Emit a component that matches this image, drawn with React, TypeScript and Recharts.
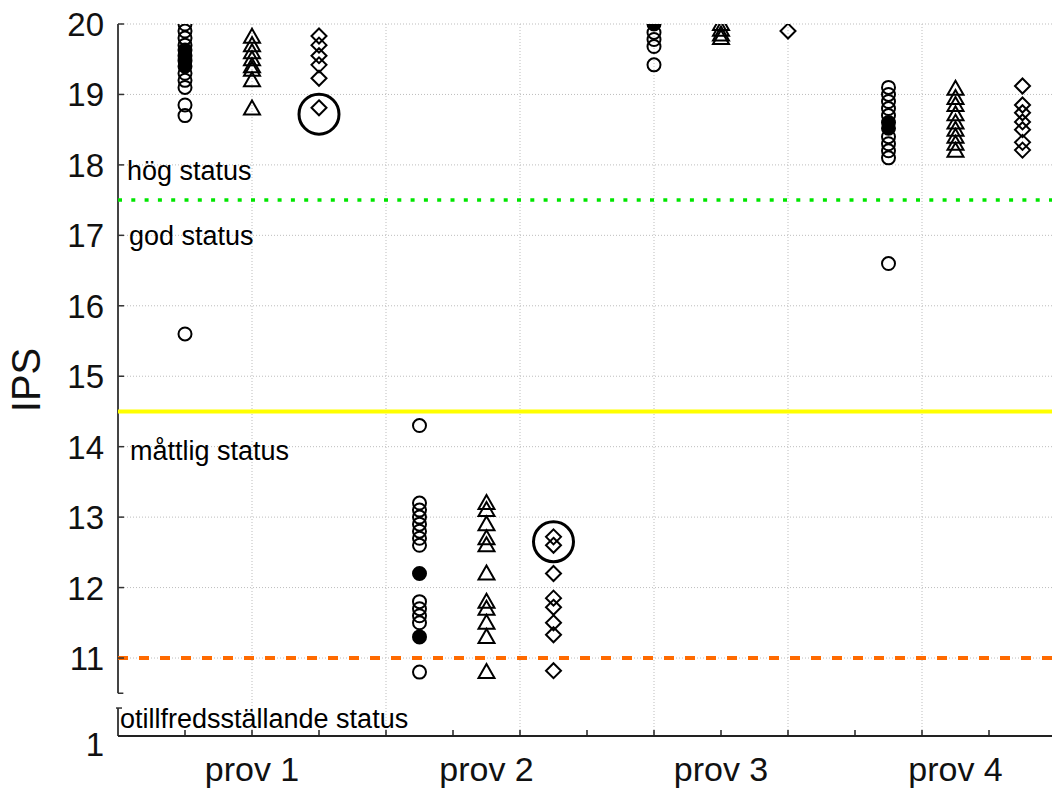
import { ScatterChart, Scatter, XAxis, YAxis, CartesianGrid, ReferenceLine } from 'recharts'

const FONT = 'Liberation Sans, Arial, sans-serif'

// x axis: four sample groups, three columns each (circle, triangle, diamond)
const PROV_LABELS = ['prov 1', 'prov 2', 'prov 3', 'prov 4']
const PROV_CENTERS = [2, 5.5, 9, 12.5]
const COLUMN_TICKS = [1, 2, 3, 4, 5, 6, 7, 8, 9, 10, 11, 12, 13]
const GRID_X = [2, 4, 6, 8, 10, 12]

// y axis: broken scale, 11..20 plus a compressed "1" at the bottom
const Y_TICKS = [11, 12, 13, 14, 15, 16, 17, 18, 19, 20]
const Y_BOTTOM = 9.893
const Y_BREAK_TOP = 10.5
const Y_BREAK_BOTTOM = 10.29
const BOTTOM_TICK_LABEL = '1'

// class boundaries
const HIGH_LIMIT = 17.5
const GOOD_LIMIT = 14.5
const MODERATE_LIMIT = 11
const STATUS = ['hög status', 'god status', 'måttlig status', 'otillfredsställande status']

// IPS values per prov
const circlesOpen = [
  [20.0, 19.9, 19.8, 19.7, 19.3, 19.2, 19.1, 18.85, 18.7, 15.6],
  [14.3, 13.2, 13.1, 13.0, 12.9, 12.8, 12.7, 12.6, 11.8, 11.7, 11.6, 11.5, 10.8],
  [19.88, 19.78, 19.68, 19.42],
  [19.1, 19.0, 18.9, 18.8, 18.7, 18.4, 18.3, 18.2, 18.1, 16.6],
]
const circlesFilled = [
  [19.63, 19.55, 19.48, 19.4],
  [12.2, 11.3],
  [20.0],
  [18.6, 18.52],
]
const triangles = [
  [19.82, 19.7, 19.6, 19.5, 19.4, 19.35, 19.2, 18.8],
  [13.2, 13.1, 12.9, 12.7, 12.6, 12.2, 11.8, 11.7, 11.5, 11.3, 10.8],
  [20.0, 19.92, 19.85, 19.8],
  [19.08, 18.95, 18.85, 18.72, 18.6, 18.5, 18.4, 18.3, 18.2],
]
const diamonds = [
  [19.83, 19.7, 19.55, 19.42, 19.23, 18.81],
  [12.72, 12.6, 12.2, 11.85, 11.72, 11.5, 11.33, 10.82],
  [19.9],
  [19.12, 18.85, 18.74, 18.61, 18.5, 18.32, 18.21],
]
const marked = [[18.72], [12.65], [], []]

const toPoints = (groups: number[][], offset: number) =>
  groups.flatMap((vals, i) => vals.map((v) => ({ x: PROV_CENTERS[i] + offset, y: v })))

const OpenCircle = (p: any) => <circle cx={p.cx} cy={p.cy} r={6.5} fill="none" stroke="#000" strokeWidth={2} />
const FilledCircle = (p: any) => <circle cx={p.cx} cy={p.cy} r={6.5} fill="#000" stroke="#000" strokeWidth={2} />
const Triangle = (p: any) => (
  <polygon
    points={`${p.cx},${p.cy - 8} ${p.cx - 8},${p.cy + 6} ${p.cx + 8},${p.cy + 6}`}
    fill="none"
    stroke="#000"
    strokeWidth={2}
  />
)
const Diamond = (p: any) => (
  <polygon
    points={`${p.cx},${p.cy - 7.5} ${p.cx + 7.5},${p.cy} ${p.cx},${p.cy + 7.5} ${p.cx - 7.5},${p.cy}`}
    fill="none"
    stroke="#000"
    strokeWidth={2}
  />
)
const BigRing = (p: any) => <circle cx={p.cx} cy={p.cy} r={20} fill="none" stroke="#000" strokeWidth={3} />

const BottomTick = (p: any) => {
  const v = p.payload.value
  const idx = PROV_CENTERS.indexOf(v)
  return (
    <g>
      {Number.isInteger(v) && <line x1={p.x} x2={p.x} y1={p.y} y2={p.y - 6} stroke="#222" strokeWidth={1.5} />}
      {idx >= 0 && (
        <text x={p.x} y={p.y + 45} textAnchor="middle" fontSize={34} fontFamily={FONT} fill="#111">
          {PROV_LABELS[idx]}
        </text>
      )}
    </g>
  )
}

const TopTick = (p: any) => <line x1={p.x} x2={p.x} y1={p.y} y2={p.y + 6} stroke="#333" strokeWidth={1.5} />

const LeftTick = (p: any) => {
  const v = p.payload.value
  const isBottom = v === Y_BOTTOM
  return (
    <g>
      {!isBottom && <line x1={p.x} x2={p.x + 6} y1={p.y} y2={p.y} stroke="#333" strokeWidth={1.5} />}
      <text x={p.x - 14} y={p.y + (isBottom ? 20 : 12)} textAnchor="end" fontSize={33} fontFamily={FONT} fill="#111">
        {isBottom ? BOTTOM_TICK_LABEL : v}
      </text>
    </g>
  )
}

const statusLabel = (text: string, dx: number, dy: number) => (props: any) => (
  <text x={props.viewBox.x + dx} y={props.viewBox.y + dy} fontSize={27} fontFamily={FONT} fill="#000">
    {text}
  </text>
)

const ipsLabel = (props: any) => {
  const cx = props.viewBox.x + 26
  const cy = props.viewBox.y + props.viewBox.height / 2
  return (
    <text x={cx} y={cy} transform={`rotate(-90 ${cx} ${cy})`} textAnchor="middle" dominantBaseline="central" fontSize={40} fontFamily={FONT} fill="#111">
      IPS
    </text>
  )
}

export default function App() {
  return (
    <div style={{ position: 'absolute', left: 0, top: 0, width: 1052, height: 790, overflow: 'hidden', background: '#fff' }}>
      <ScatterChart width={1060} height={790} margin={{ top: 24, right: 4, bottom: 0, left: 0 }}>
        <CartesianGrid vertical={false} stroke="#bdbdbd" strokeDasharray="1 2" />
        {GRID_X.map((gx) => (
          <ReferenceLine key={gx} x={gx} stroke="#bdbdbd" strokeDasharray="1 2" />
        ))}
        <XAxis
          type="number"
          dataKey="x"
          domain={[0, 14]}
          ticks={[...COLUMN_TICKS, ...PROV_CENTERS.filter((c) => !Number.isInteger(c))].sort((a, b) => a - b)}
          interval={0}
          allowDataOverflow
          height={54}
          tickSize={0}
          tickMargin={0}
          tick={BottomTick}
          axisLine={{ stroke: '#222', strokeWidth: 2 }}
        />
        <XAxis
          xAxisId="top"
          orientation="top"
          type="number"
          dataKey="x"
          domain={[0, 14]}
          ticks={COLUMN_TICKS}
          interval={0}
          height={0}
          tickSize={0}
          tickMargin={0}
          tick={TopTick}
          axisLine={{ stroke: '#444', strokeWidth: 2 }}
        />
        <YAxis
          type="number"
          dataKey="y"
          domain={[Y_BOTTOM, 20]}
          ticks={[Y_BOTTOM, ...Y_TICKS]}
          interval={0}
          allowDataOverflow
          width={118}
          tickSize={0}
          tickMargin={0}
          tick={LeftTick}
          axisLine={false}
          label={ipsLabel}
        />
        <ReferenceLine segment={[{ x: 0, y: 20 }, { x: 0, y: Y_BREAK_TOP }]} stroke="#444" strokeWidth={2} ifOverflow="visible" />
        <ReferenceLine segment={[{ x: 0, y: Y_BREAK_TOP }, { x: 0.08, y: Y_BREAK_TOP }]} stroke="#333" strokeWidth={1.5} ifOverflow="visible" />
        <ReferenceLine segment={[{ x: 0, y: Y_BREAK_BOTTOM }, { x: 0, y: Y_BOTTOM }]} stroke="#444" strokeWidth={2} ifOverflow="visible" />
        <ReferenceLine segment={[{ x: -0.03, y: Y_BREAK_BOTTOM }, { x: 0.06, y: Y_BREAK_BOTTOM }]} stroke="#333" strokeWidth={1.5} ifOverflow="visible" />

        <ReferenceLine y={HIGH_LIMIT} stroke="#00e600" strokeWidth={3.5} strokeDasharray="4 9.3" label={statusLabel(STATUS[0], 9, -20)} />
        <ReferenceLine y={HIGH_LIMIT} stroke="none" label={statusLabel(STATUS[1], 11, 45)} />
        <ReferenceLine y={GOOD_LIMIT} stroke="#ffff00" strokeWidth={4} label={statusLabel(STATUS[2], 12, 49)} />
        <ReferenceLine y={MODERATE_LIMIT} stroke="#ff6a00" strokeWidth={4} strokeDasharray="10 11" label={statusLabel(STATUS[3], 2, 70)} />

        <Scatter data={toPoints(circlesOpen, -1)} shape={OpenCircle} isAnimationActive={false} />
        <Scatter data={toPoints(circlesFilled, -1)} shape={FilledCircle} isAnimationActive={false} />
        <Scatter data={toPoints(triangles, 0)} shape={Triangle} isAnimationActive={false} />
        <Scatter data={toPoints(diamonds, 1)} shape={Diamond} isAnimationActive={false} />
        <Scatter data={toPoints(marked, 1)} shape={BigRing} isAnimationActive={false} />
      </ScatterChart>
    </div>
  )
}
